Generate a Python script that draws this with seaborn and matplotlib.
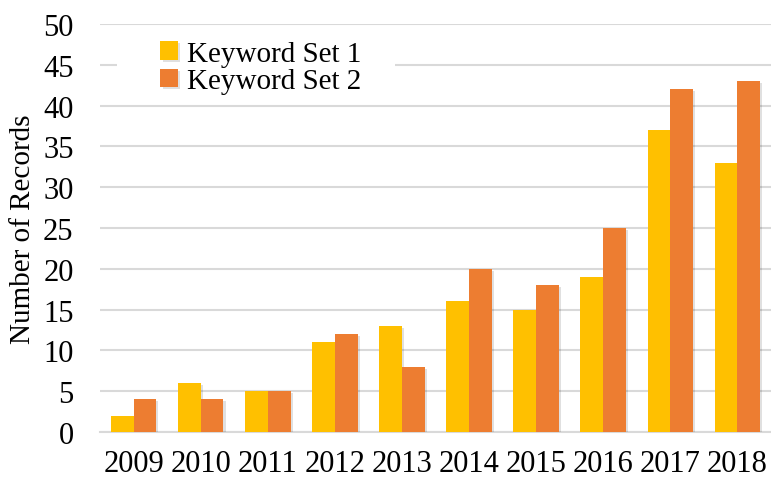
import matplotlib
matplotlib.use("Agg")
import matplotlib.pyplot as plt
import matplotlib.patheffects as pe
from matplotlib.patches import Rectangle
import seaborn as sns
import pandas as pd

years = ["2009", "2010", "2011", "2012", "2013", "2014", "2015", "2016", "2017", "2018"]
keyword_set_1 = [2, 6, 5, 11, 13, 16, 15, 19, 37, 33]
keyword_set_2 = [4, 4, 5, 12, 8, 20, 18, 25, 42, 43]
series_names = ["Keyword Set 1", "Keyword Set 2"]
y_ticks = list(range(0, 51, 5))

df = pd.DataFrame({
    "Year": years * 2,
    "Records": keyword_set_1 + keyword_set_2,
    "Series": [series_names[0]] * len(years) + [series_names[1]] * len(years),
})

sns.set_theme(style="white")
plt.rcParams["font.family"] = ["Liberation Serif", "DejaVu Serif"]
plt.rcParams["text.color"] = "black"
plt.rcParams["axes.labelcolor"] = "black"

fig = plt.figure(figsize=(7.71, 4.81), dpi=100)
ax = fig.add_axes([100 / 771, 48 / 481, 671 / 771, 408 / 481])

sns.barplot(data=df, x="Year", y="Records", hue="Series",
            palette=["#FFC000", "#ED7D31"], width=0.68, gap=0,
            saturation=1, ax=ax, zorder=3)

for p in ax.patches:
    p.set_linewidth(0)
    p.set_path_effects([pe.SimplePatchShadow(offset=(1.5, -1.5), alpha=0.12, shadow_rgbFace="black"),
                        pe.Normal()])

ax.set_xlim(-0.5, 9.5)
ax.set_ylim(0, 50)
ax.set_yticks(y_ticks)
ax.yaxis.grid(True, color="#D9D9D9", linewidth=1.5, zorder=0)
ax.set_axisbelow(True)
for side in ["top", "right", "left"]:
    ax.spines[side].set_visible(False)
ax.spines["bottom"].set_color("#D9D9D9")
ax.spines["bottom"].set_linewidth(1.5)

ax.tick_params(axis="both", length=0, labelsize=22, colors="black")
ax.tick_params(axis="y", pad=19)
ax.tick_params(axis="x", pad=12)
ax.set_xlabel("")
ax.set_ylabel("Number of Records", fontsize=21, labelpad=5, color="black")

# white backing panel behind the legend (between the 40 and 50 gridlines)
ax.add_patch(Rectangle((17 / 671, 41.5), (395 - 117) / 671, 7.0,
                       transform=ax.get_yaxis_transform(), facecolor="white",
                       edgecolor="none", zorder=1))

leg = ax.legend(loc="upper left", bbox_to_anchor=(0.077, 0.98), frameon=False,
                fontsize=21, handlelength=0.6, handleheight=0.6,
                handletextpad=0.3, labelspacing=0.05, borderpad=0.3,
                borderaxespad=0)
for t in leg.get_texts():
    t.set_color("black")
leg.set_zorder(5)

fig.savefig("out.png", dpi=100)
